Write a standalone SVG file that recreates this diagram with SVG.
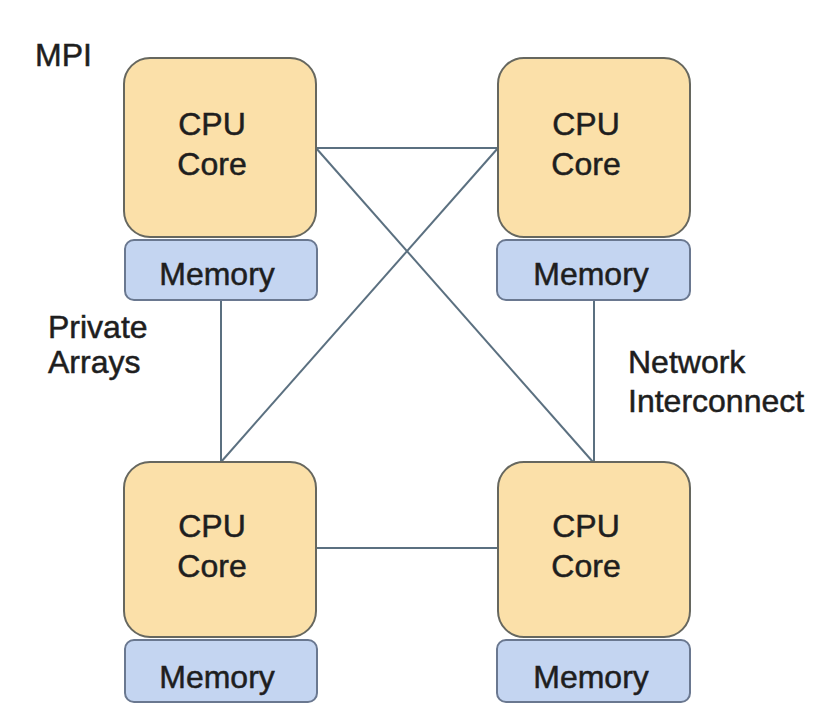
<svg xmlns="http://www.w3.org/2000/svg" width="828" height="728" viewBox="0 0 828 728">
<style>
.cpu{fill:#fbe0a9;stroke:#66675f;stroke-width:2}
.mem{fill:#c4d5f1;stroke:#6a7890;stroke-width:2}
.t{font-family:"Liberation Sans",Arial,sans-serif;font-size:32px;fill:#1e1e1e;stroke:#1e1e1e;stroke-width:0.5}
.c{text-anchor:middle}
.ln{stroke:#5b7080;stroke-width:2;fill:none}
</style>
<rect width="828" height="728" fill="#ffffff"/>
<g id="connectors">
<line class="ln" x1="316" y1="148" x2="498" y2="148"/>
<line class="ln" x1="316" y1="148" x2="593" y2="462"/>
<line class="ln" x1="498" y1="148" x2="221" y2="462"/>
<line class="ln" x1="221" y1="300" x2="221" y2="462"/>
<line class="ln" x1="594" y1="300" x2="594" y2="462"/>
<line class="ln" x1="316" y1="548" x2="498" y2="548"/>
</g>
<g id="cpu-tl"><rect class="cpu" x="124" y="58" width="192" height="179" rx="26"/><text class="t c" x="212" y="135">CPU</text><text class="t c" x="212" y="175">Core</text></g>
<g id="mem-tl"><rect class="mem" x="125" y="240" width="192" height="60" rx="9"/><text class="t c" x="217" y="285">Memory</text></g>
<g id="cpu-tr"><rect class="cpu" x="498" y="58" width="192" height="179" rx="26"/><text class="t c" x="586" y="135">CPU</text><text class="t c" x="586" y="175">Core</text></g>
<g id="mem-tr"><rect class="mem" x="497" y="240" width="193" height="60" rx="9"/><text class="t c" x="591" y="285">Memory</text></g>
<g id="cpu-bl"><rect class="cpu" x="124" y="462" width="192" height="175" rx="26"/><text class="t c" x="212" y="537">CPU</text><text class="t c" x="212" y="577">Core</text></g>
<g id="mem-bl"><rect class="mem" x="125" y="640" width="192" height="62" rx="9"/><text class="t c" x="217" y="688">Memory</text></g>
<g id="cpu-br"><rect class="cpu" x="498" y="462" width="192" height="175" rx="26"/><text class="t c" x="586" y="537">CPU</text><text class="t c" x="586" y="577">Core</text></g>
<g id="mem-br"><rect class="mem" x="497" y="640" width="193" height="62" rx="9"/><text class="t c" x="591" y="688">Memory</text></g>
<g id="labels">
<text class="t" x="35" y="66">MPI</text>
<text class="t" x="48" y="338">Private</text>
<text class="t" x="48" y="373">Arrays</text>
<text class="t" x="628" y="373">Network</text>
<text class="t" x="628" y="412">Interconnect</text>
</g>
</svg>
